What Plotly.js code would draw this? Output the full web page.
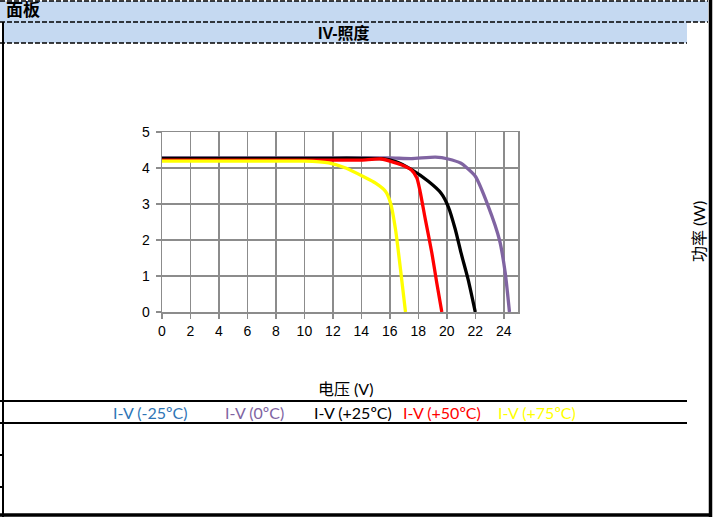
<!DOCTYPE html>
<html>
<head>
<meta charset="utf-8">
<script src="https://cdn.plot.ly/plotly-3.0.1.min.js"></script>
<style>
  html, body { margin: 0; padding: 0; background: #fff; }
  #chart { width: 718px; height: 517px; }
</style>
</head>
<body>
<div id="chart"></div>
<script>
// ---- Data ----
const seriesNames = ["I-V (-25ºC)", "I-V (0ºC)", "I-V (+25ºC)", "I-V (+50ºC)", "I-V (+75ºC)"];
const seriesColors = ["#2e75b6", "#8064a2", "#000000", "#ff0000", "#ffff00"];

// -25 °C : not visible in the plot area (no points shown)
const vMinus25 = [];
const iMinus25 = [];

// 0 °C
const v0 = [0, 4, 8, 12, 16, 17.5, 19.2, 20.1, 21.0, 21.3, 22.0, 22.9, 23.7, 24.1, 24.4];
const i0 = [4.28, 4.28, 4.28, 4.28, 4.28, 4.26, 4.30, 4.25, 4.13, 4.04, 3.77, 2.95, 2.0, 1.1, 0];

// +25 °C
const v25 = [0, 4, 8, 12, 14, 15.5, 16.4, 17.5, 18.7, 19.6, 20.1, 20.6, 21.0, 21.5, 22.0];
const i25 = [4.27, 4.27, 4.27, 4.27, 4.27, 4.26, 4.18, 3.96, 3.63, 3.30, 2.93, 2.29, 1.64, 0.90, 0];

// +50 °C
const v50 = [0, 4, 8, 12, 14, 15.4, 16.8, 17.5, 17.9, 18.1, 18.5, 18.95, 19.3, 19.65];
const i50 = [4.22, 4.22, 4.22, 4.22, 4.22, 4.25, 4.09, 3.95, 3.72, 3.40, 2.56, 1.64, 0.80, 0];

// +75 °C
const v75 = [0, 4, 8, 10, 11.7, 12.9, 14.1, 15.0, 15.7, 16.05, 16.4, 16.75, 17.1];
const i75 = [4.19, 4.19, 4.19, 4.19, 4.14, 4.0, 3.77, 3.58, 3.35, 3.03, 2.29, 1.18, 0];

const xTickVals = [0, 2, 4, 6, 8, 10, 12, 14, 16, 18, 20, 22, 24];
const yTickVals = [0, 1, 2, 3, 4, 5];

const headerText = "面板";
const chartTitle = "IV-照度";
const xTitle = "电压 (V)";
const yTitle = "功率 (W)";

// ---- Geometry helpers (pixel -> paper) ----
const PL = 162, PR = 518, PT = 132, PB = 312;
const W = 718, H = 517;
const X = px => (px - PL) / (PR - PL);
const Y = py => (PB - py) / (PB - PT);

const lineFont = "Liberation Sans, Arial, sans-serif";
const calFont = "Lato, 'Noto Sans CJK SC', sans-serif";
const cjkBold = "Liberation Sans, 'Noto Sans CJK SC', sans-serif";

const xs = [vMinus25, v0, v25, v50, v75];
const ys = [iMinus25, i0, i25, i50, i75];

const traces = xs.map((x, k) => ({
  type: "scatter",
  mode: "lines",
  name: seriesNames[k],
  x: x,
  y: ys[k],
  line: { color: seriesColors[k], width: 3.3, shape: "spline", smoothing: 0.6 },
  hoverinfo: "x+y+name",
  cliponaxis: true
}));

const shapes = [];
function hline(y, x0, x1, w, dash) {
  shapes.push({ type: "line", xref: "paper", yref: "paper", x0: X(x0), x1: X(x1), y0: Y(y), y1: Y(y),
    line: { color: "#000", width: w, dash: dash || "solid" }, layer: "above" });
}
function vline(x, y0, y1, w) {
  shapes.push({ type: "line", xref: "paper", yref: "paper", x0: X(x), x1: X(x), y0: Y(y0), y1: Y(y1),
    line: { color: "#000", width: w }, layer: "above" });
}
// header bands
shapes.push({ type: "rect", xref: "paper", yref: "paper", x0: X(0), x1: X(708), y0: Y(22), y1: Y(1),
  fillcolor: "#c5d9f1", line: { width: 0 }, layer: "below" });
shapes.push({ type: "rect", xref: "paper", yref: "paper", x0: X(4), x1: X(687), y0: Y(43), y1: Y(22),
  fillcolor: "#c5d9f1", line: { width: 0 }, layer: "below" });
hline(1, 0, 708, 1.5, "5px,2px");
hline(22, 0, 708, 1.5, "5px,2px");
hline(43, 0, 687, 1.5, "5px,2px");
vline(3, 22, 517, 2);
hline(401, 0, 687, 2);
hline(423, 0, 687, 2);
hline(455, 0, 3, 2);
hline(487, 0, 3, 2);
vline(710.5, 0, 517, 3.5);
hline(515, 0, 712, 3.5);

const annotations = [
  { text: "<b>" + headerText + "</b>", x: X(4), y: Y(11), xanchor: "left", yanchor: "middle",
    font: { family: cjkBold, size: 17, color: "#000" } },
  { text: "<b>" + chartTitle + "</b>", x: X(344), y: Y(33), xanchor: "center", yanchor: "middle",
    font: { family: cjkBold, size: 16, color: "#000" } },
  { text: xTitle, x: X(345), y: Y(388), xanchor: "center", yanchor: "middle",
    font: { family: calFont, size: 16, color: "#000" } },
  { text: yTitle, x: X(698), y: Y(232), xanchor: "center", yanchor: "middle", textangle: -90,
    font: { family: calFont, size: 16, color: "#000" } }
];
const legendX = [150, 254, 353, 442, 537];
seriesNames.forEach((n, k) => {
  annotations.push({ text: n, x: X(legendX[k]), y: Y(412), xanchor: "center", yanchor: "middle",
    font: { family: calFont, size: 16, color: seriesColors[k] } });
});
annotations.forEach(a => { a.xref = "paper"; a.yref = "paper"; a.showarrow = false; });

const layout = {
  width: W, height: H,
  margin: { l: PL, r: W - PR, t: PT, b: H - PB, pad: 0 },
  paper_bgcolor: "#ffffff",
  plot_bgcolor: "#ffffff",
  showlegend: false,
  xaxis: {
    range: [0, 25], tickvals: xTickVals, ticktext: xTickVals.map(String),
    showgrid: true, gridcolor: "#8c8c8c", gridwidth: 1.5,
    showline: true, linecolor: "#8c8c8c", linewidth: 1.5, mirror: true,
    ticks: "outside", ticklen: 5, tickcolor: "#8c8c8c", tickwidth: 1.5,
    ticklabelstandoff: 1,
    tickfont: { family: lineFont, size: 14, color: "#000" },
    zeroline: false, fixedrange: true
  },
  yaxis: {
    range: [0, 5], tickvals: yTickVals, ticktext: yTickVals.map(String),
    showgrid: true, gridcolor: "#8c8c8c", gridwidth: 1.5,
    showline: true, linecolor: "#8c8c8c", linewidth: 1.5, mirror: true,
    ticks: "outside", ticklen: 5, tickcolor: "#8c8c8c", tickwidth: 1.5,
    ticklabelstandoff: 3,
    tickfont: { family: lineFont, size: 14, color: "#000" },
    zeroline: false, fixedrange: true
  },
  shapes: shapes,
  annotations: annotations
};

Plotly.newPlot("chart", traces, layout, { displayModeBar: false, staticPlot: true });
</script>
</body>
</html>
